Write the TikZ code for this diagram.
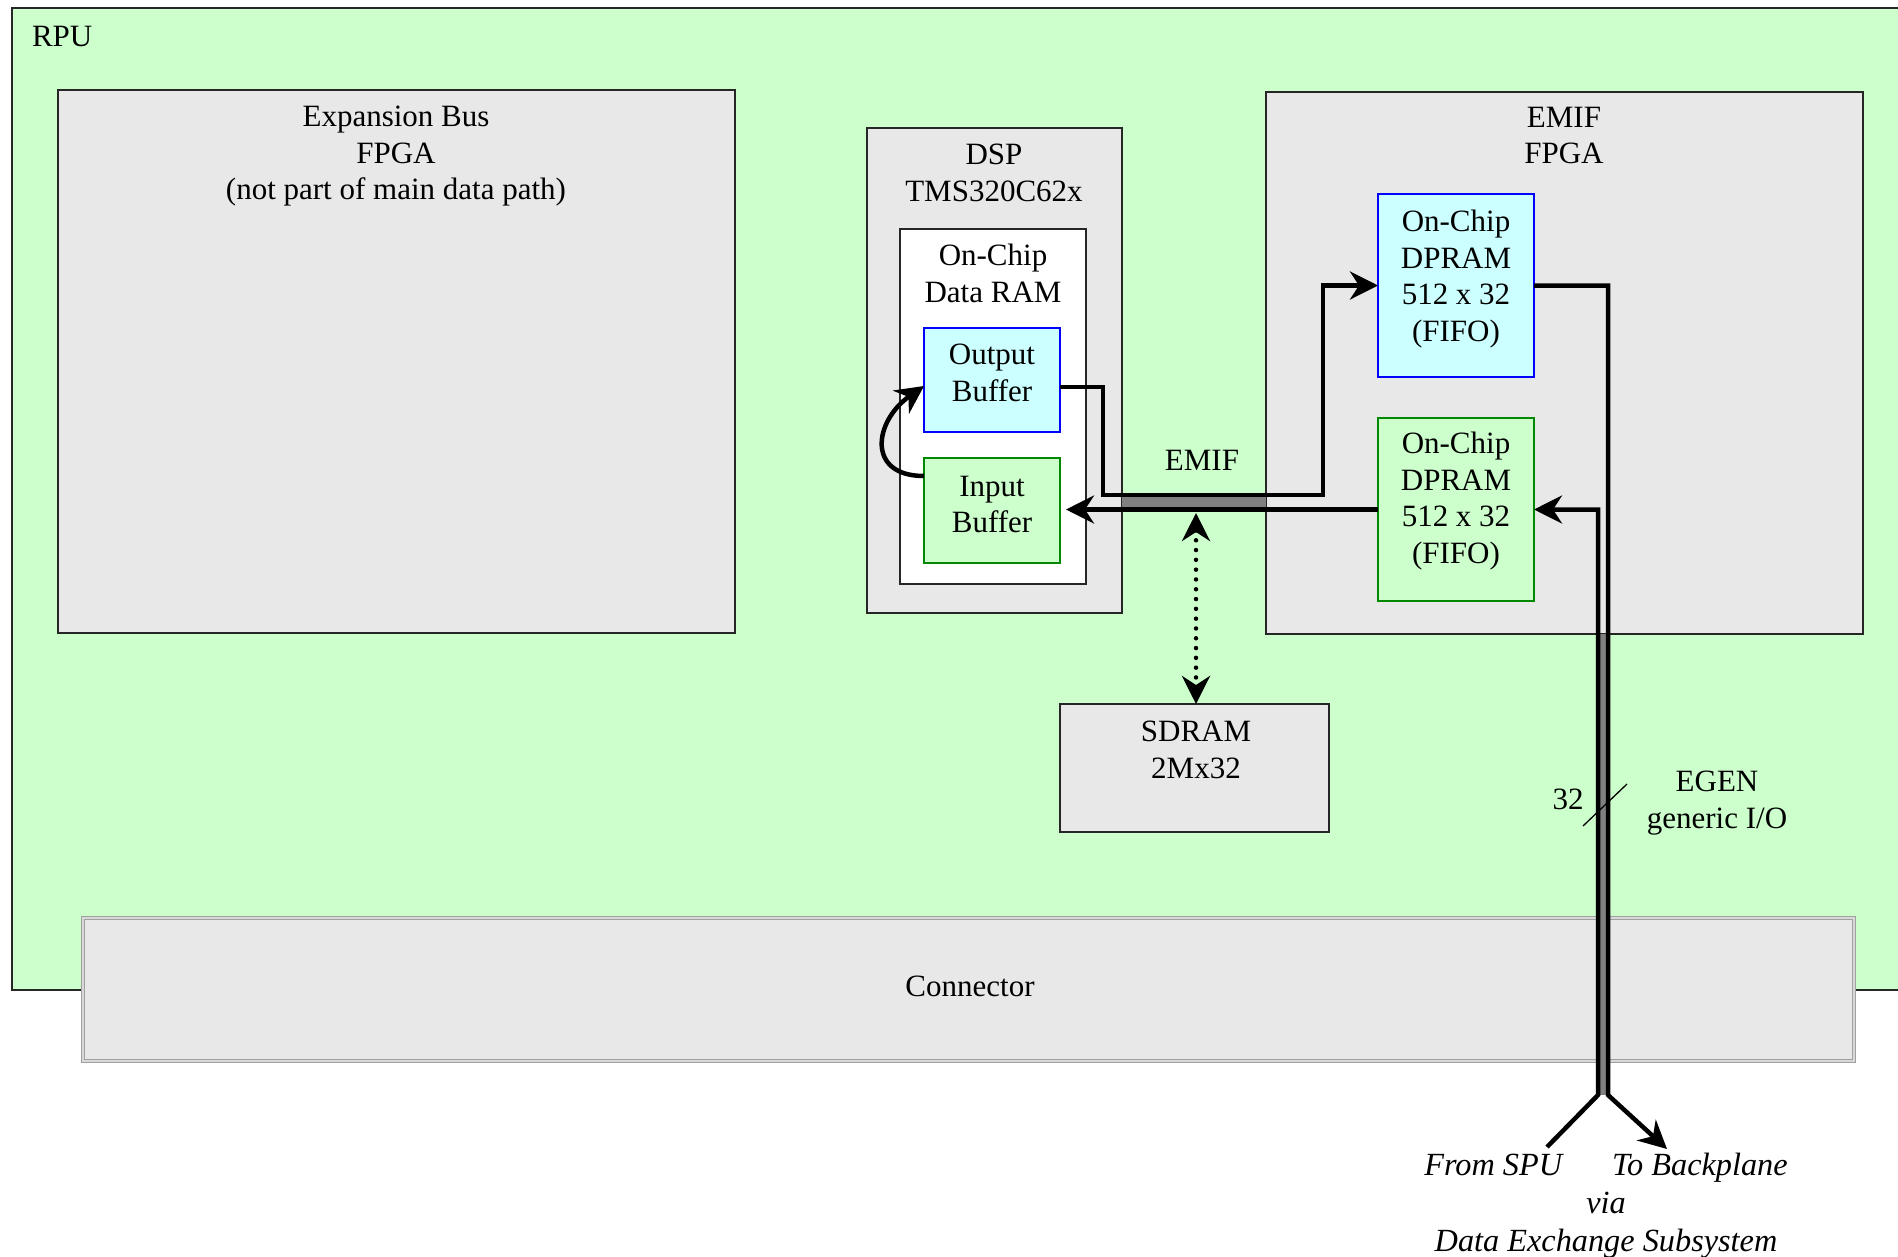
\documentclass[tikz,border=0pt]{standalone}
\usepackage{fontspec}
\setmainfont{Liberation Serif}
\usetikzlibrary{arrows.meta,fit,calc}

\definecolor{boardgreen}{HTML}{CCFFCC}
\definecolor{chipgray}{HTML}{E8E8E8}
\definecolor{bufcyan}{HTML}{CCFFFF}
\definecolor{bufblue}{HTML}{0000FF}
\definecolor{bufgreen}{HTML}{008800}
\definecolor{busgray}{HTML}{808080}
\definecolor{edgegray}{HTML}{A0A0A0}
\definecolor{edgelight}{HTML}{D8D8D8}

\begin{document}
\begin{tikzpicture}[x=1pt,y=-1pt,
  font=\fontsize{31}{36.5}\selectfont,
  every node/.style={inner sep=0pt, outer sep=0pt},
  board/.style={draw=black!85, line width=1.8pt, fill=boardgreen},
  chip/.style={draw=black!85, line width=1.8pt, fill=chipgray},
  ram/.style={draw=black!85, line width=1.8pt, fill=white},
  outbuf/.style={draw=bufblue, line width=1.8pt, fill=bufcyan},
  inbuf/.style={draw=bufgreen, line width=1.8pt, fill=boardgreen},
  plug/.style={draw=edgegray, line width=1.2pt, double=edgelight, double distance=2.2pt, fill=chipgray},
  txt/.style={align=center, anchor=north},
  wire/.style={line width=4.5pt, line join=miter},
  band/.style={fill=busgray},
  >={Stealth[length=28pt,width=28pt,inset=9pt]}
]
\useasboundingbox (0,0) rectangle (1898,1256);
\clip (0,0) rectangle (1898,1256);

% board outline
\draw[board] (12,8) rectangle (1960,990);
\node[anchor=base west] (rpu) at (32,46) {RPU};

% expansion bus FPGA
\node[chip, fit={(58,90) (735,633)}] (exp) {};
\node[txt] (explbl) at (396,106) {Expansion Bus\\FPGA\\(not part of main data path)};

% DSP with its on-chip data RAM
\node[chip, fit={(867,128) (1122,613)}] (dsp) {};
\node[txt] (dsplbl) at (994,144) {DSP\\TMS320C62x};
\node[ram, fit={(900,229) (1086,584)}] (dram) {};
\node[txt] (dramlbl) at (993,244) {On-Chip\\Data RAM};
\node[outbuf, fit={(924,328) (1060,432)}] (ob) {};
\node[txt] (oblbl) at (992,344) {Output\\Buffer};
\node[inbuf, fit={(924,458) (1060,563)}] (ib) {};
\node[txt] (iblbl) at (992,476) {Input\\Buffer};

% EMIF FPGA with two DPRAM FIFOs
\node[chip, fit={(1266,92) (1863,634)}] (emif) {};
\node[txt] (emiflbl) at (1564,107) {EMIF\\FPGA};
\node[outbuf, fit={(1378,194) (1534,377)}] (dpu) {};
\node[txt] (dpulbl) at (1456,210) {On-Chip\\DPRAM\\512 x 32\\(FIFO)};
\node[inbuf, fit={(1378,418) (1534,601)}] (dpl) {};
\node[txt] (dpllbl) at (1456,432) {On-Chip\\DPRAM\\512 x 32\\(FIFO)};

% SDRAM
\node[chip, fit={(1060,704) (1329,832)}] (sdram) {};
\node[txt] (sdramlbl) at (1196,721) {SDRAM\\2Mx32};

% connector strip
\node[plug, fit={(83,918) (1854,1061)}] (conn) {};
\node[anchor=base] (connlbl) at (970,996) {Connector};

% EMIF bus between DSP and FPGA
\fill[band] (dsp.east |- 0,496) rectangle (emif.west |- 0,508);
\node[anchor=base] (emiflabel) at (1202,470) {EMIF};

% external EGEN bus
\fill[band] (1598,634) rectangle (1608,1095);

\coordinate (bend) at (1103,387);
\coordinate (busL) at (1598,1095);
\coordinate (busR) at (1608,1095);
\coordinate (fromSPU) at (1547,1147);
\coordinate (toBP) at (1667,1149);
\coordinate (emifpt) at (1196,513);

% loop from input buffer back to output buffer
\draw[wire,->] ($(ib.north west)+(0,18)$) .. controls +(-58,0) and +(-50,35) .. ($(ob.west)+(0,6)$);

% DSP -> upper DPRAM
\draw[wire,->] ($(ob.east)+(0,7)$) -- (bend) -- ++(0,108) -- (1323,495) |- (dpu.west);
% lower DPRAM -> DSP
\draw[wire,->,shorten >=6pt] (dpl.west) -- (dpl.west -| ib.east);

% upper DPRAM -> backplane
\draw[wire,->] (dpu.east) -| (busR) -- (toBP);
% SPU -> lower DPRAM
\draw[wire,->] (fromSPU) -- (busL) |- (dpl.east);

% SDRAM on the EMIF bus
\draw[line width=4.5pt, line cap=round, dash pattern=on 0pt off 9.8pt, <->] (emifpt) -- (sdram.north -| emifpt);

% bus width marker
\draw[line width=1.3pt] (1583,826) -- (1627,784);
\node[anchor=base] (w32) at (1568,809) {32};
\node[txt] (egen) at (1717,771) {EGEN\\generic I/O};

\node[txt, font=\fontsize{32.3}{38}\selectfont\itshape] (dest) at (1606,1153)
  {From SPU\hspace{50pt}To Backplane\\via\\Data Exchange Subsystem};
\end{tikzpicture}
\end{document}
